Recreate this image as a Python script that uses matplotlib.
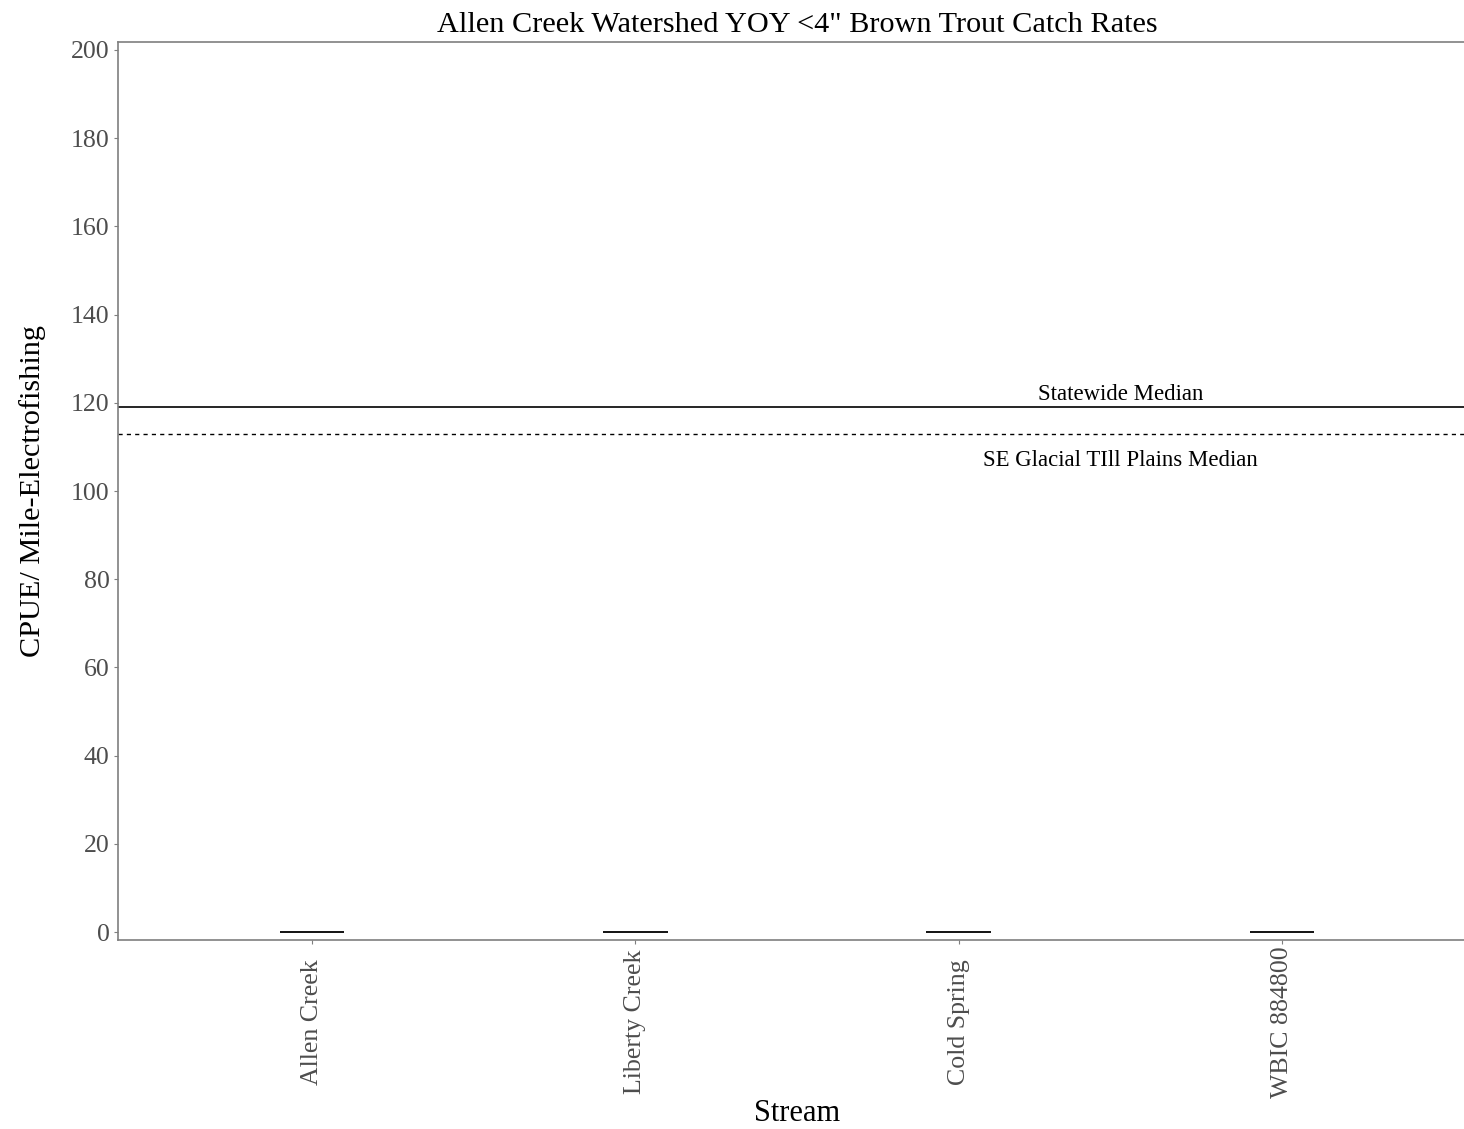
import matplotlib
matplotlib.use("Agg")
import matplotlib.pyplot as plt

# data
streams = ["Allen Creek", "Liberty Creek", "Cold Spring", "WBIC 884800"]
cpue = [0, 0, 0, 0]
statewide_median = 119
region_median = 113
y_ticks = [0, 20, 40, 60, 80, 100, 120, 140, 160, 180, 200]

plt.rcParams['font.family'] = ['Liberation Serif', 'DejaVu Serif']

W, H = 1464, 1129
fig = plt.figure(figsize=(W / 100, H / 100), dpi=100)
left, right, top, bottom = 118, 1476, 42, 940
ax = fig.add_axes([left / W, 1 - bottom / H, (right - left) / W, (bottom - top) / H])

x = list(range(1, len(streams) + 1))
ax.hlines(cpue, [i - 0.1 for i in x], [i + 0.1 for i in x], color='black', lw=1.3)

ax.axhline(statewide_median, color='black', lw=1.2)
ax.axhline(region_median, color='black', lw=1.0, linestyle=(0, (3, 3)))
ax.text(3.5, statewide_median + 2.8, "Statewide Median", ha='center', va='center', fontsize=16.4)
ax.text(3.5, region_median - 6.0, "SE Glacial TIll Plains Median", ha='center', va='center', fontsize=16.4)

ax.set_xlim(0.4, 4.6)
ax.set_ylim(-1.8, 201.8)
ax.set_xticks(x)
ax.set_xticklabels(streams, rotation=90, fontsize=18.6, color='#4d4d4d')
for lab in ax.get_xticklabels():
    lab.set_va('center')
ax.set_yticks(y_ticks)
ax.set_yticklabels([str(v) for v in y_ticks], fontsize=18.6, color='#4d4d4d')
ax.tick_params(length=3, width=0.8, color='#7f7f7f', pad=3)
ax.tick_params(axis='x', pad=56)

for s in ['left', 'bottom', 'top']:
    ax.spines[s].set_color('#7f7f7f')
    ax.spines[s].set_linewidth(1.2)
ax.spines['right'].set_visible(False)

ax.set_title('Allen Creek Watershed YOY <4" Brown Trout Catch Rates', fontsize=21.8, pad=7)
ax.set_xlabel("Stream", fontsize=22, labelpad=1)
ax.set_ylabel("CPUE/ Mile-Electrofishing", fontsize=21.8, labelpad=18)

fig.savefig("out.png", dpi=100)
